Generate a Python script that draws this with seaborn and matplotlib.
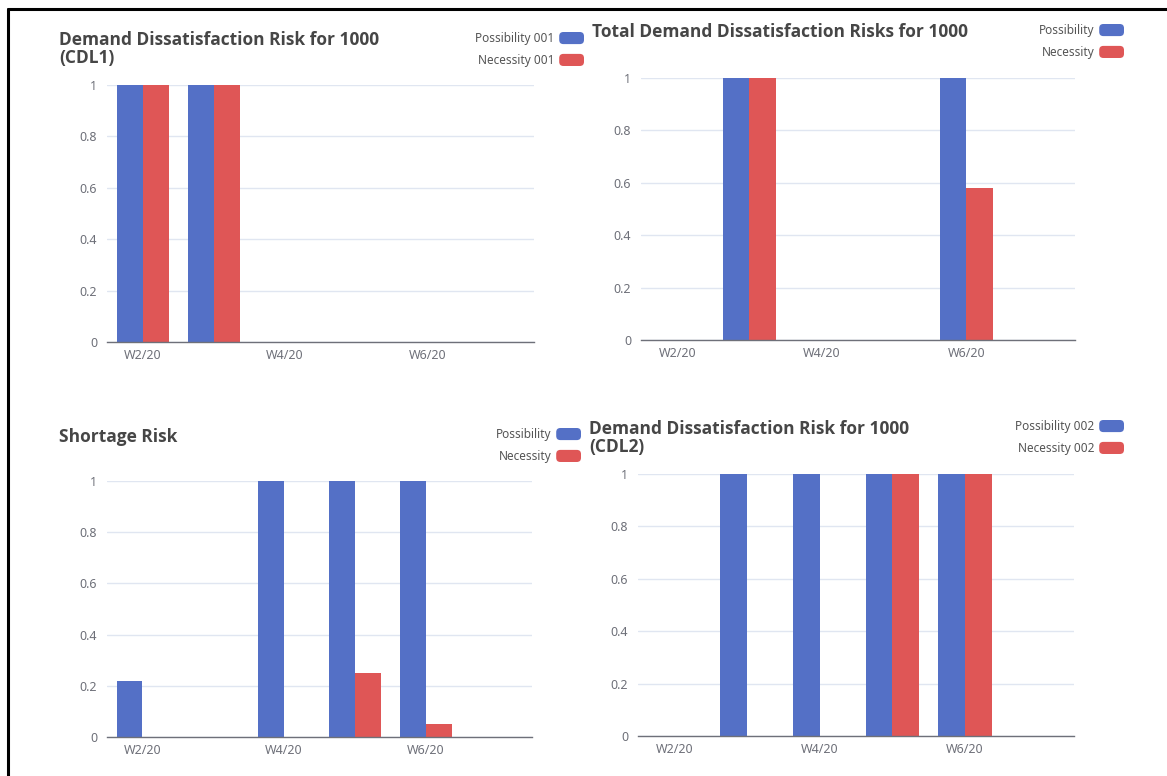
import pandas as pd
import matplotlib.pyplot as plt
import seaborn as sns
from matplotlib.lines import Line2D
from matplotlib.patches import Patch, FancyBboxPatch
from matplotlib.legend_handler import HandlerPatch

# Weeks on the x axis (every second one is labelled)
weeks = ["W2/20", "W3/20", "W4/20", "W5/20", "W6/20", "W7/20"]

# Demand Dissatisfaction Risk for 1000 (CDL1)
cdl1_poss = [1, 1, 0, 0, 0, 0]
cdl1_nec = [1, 1, 0, 0, 0, 0]

# Total Demand Dissatisfaction Risks for 1000
total_poss = [0, 1, 0, 0, 1, 0]
total_nec = [0, 1, 0, 0, 0.58, 0]

# Shortage Risk
short_poss = [0.22, 0, 1, 1, 1, 0]
short_nec = [0, 0, 0, 0.25, 0.05, 0]

# Demand Dissatisfaction Risk for 1000 (CDL2)
cdl2_poss = [0, 1, 1, 1, 1, 0]
cdl2_nec = [0, 0, 0, 1, 1, 0]

yticks = [0, 0.2, 0.4, 0.6, 0.8, 1]
ytick_labels = ["0", "0.2", "0.4", "0.6", "0.8", "1"]

BLUE = "#5470c6"
RED = "#df5656"

sns.set_style("white")
plt.rcParams["font.family"] = ["Noto Sans", "DejaVu Sans"]

W, H = 1167, 776
fig = plt.figure(figsize=(W / 100, H / 100), dpi=100)


class RoundSwatch(HandlerPatch):
    # rounded legend swatch like the echarts one
    def create_artists(self, legend, orig_handle, xdescent, ydescent,
                       width, height, fontsize, trans):
        p = FancyBboxPatch((-xdescent, -ydescent), width, height,
                           boxstyle="round,pad=0,rounding_size=3",
                           facecolor=orig_handle.get_facecolor(),
                           edgecolor="none", transform=trans)
        return [p]


def px(x0, y0, x1, y1):
    # pixel box -> figure fraction [left, bottom, width, height]
    return [x0 / W, 1 - y1 / H, (x1 - x0) / W, (y1 - y0) / H]


def draw(box, poss, nec, names, title, title_xy, leg_xy):
    ax = fig.add_axes(px(*box))
    df = pd.DataFrame({
        "week": weeks * 2,
        "series": [names[0]] * len(weeks) + [names[1]] * len(weeks),
        "value": poss + nec,
    })
    sns.barplot(data=df, x="week", y="value", hue="series", order=weeks,
                hue_order=names, palette=[BLUE, RED], saturation=1,
                width=0.73, ax=ax, linewidth=0, legend=False)
    ax.set_xlim(-0.5, len(weeks) - 0.5)
    ax.set_ylim(0, 1)
    ax.set_yticks(yticks)
    ax.set_yticklabels(ytick_labels)
    ax.set_xticks(range(0, len(weeks), 2))
    ax.set_xticklabels(weeks[::2])
    ax.set_xlabel("")
    ax.set_ylabel("")
    ax.grid(axis="y", color="#e0e6f1", linewidth=1)
    ax.set_axisbelow(True)
    for s in ["top", "right", "left"]:
        ax.spines[s].set_visible(False)
    ax.spines["bottom"].set_color("#6e7079")
    ax.spines["bottom"].set_linewidth(1)
    ax.tick_params(axis="both", length=0, labelsize=9, labelcolor="#6e7079")
    ax.tick_params(axis="y", pad=7)
    ax.tick_params(axis="x", pad=5)

    handles = [Patch(facecolor=BLUE, label=names[0]),
               Patch(facecolor=RED, label=names[1])]
    ax.legend(handles=handles, loc="upper right",
              bbox_to_anchor=(leg_xy[0] / W, 1 - leg_xy[1] / H),
              bbox_transform=fig.transFigure, frameon=False, markerfirst=False,
              borderpad=0, borderaxespad=0, handlelength=2.1, handleheight=1.2,
              handletextpad=0.4, labelspacing=0.75, fontsize=8.5,
              labelcolor="#555555", handler_map={Patch: RoundSwatch()})

    fig.text(title_xy[0] / W, 1 - title_xy[1] / H, title, ha="left", va="top",
             fontsize=12.5, fontweight="bold", color="#464646",
             linespacing=1.0, family=["Open Sans", "DejaVu Sans"])


draw((107, 85, 534, 342), cdl1_poss, cdl1_nec,
     ["Possibility 001", "Necessity 001"],
     "Demand Dissatisfaction Risk for 1000\n(CDL1)", (59, 31), (584, 32))
draw((641, 78, 1075, 340), total_poss, total_nec,
     ["Possibility", "Necessity"],
     "Total Demand Dissatisfaction Risks for 1000", (592, 23), (1124, 24))
draw((107, 481, 532, 737), short_poss, short_nec,
     ["Possibility", "Necessity"],
     "Shortage Risk", (59, 428), (581, 428))
draw((638, 474, 1074, 736), cdl2_poss, cdl2_nec,
     ["Possibility 002", "Necessity 002"],
     "Demand Dissatisfaction Risk for 1000\n(CDL2)", (589, 420), (1124, 420))

# frame lines of the screenshot
fig.add_artist(Line2D([8 / W, 1], [1 - 9 / H, 1 - 9 / H], color="black",
                      linewidth=2.2, transform=fig.transFigure))
fig.add_artist(Line2D([8 / W, 8 / W], [0, 1 - 9 / H], color="black",
                      linewidth=2.2, transform=fig.transFigure))

fig.savefig("out.png", dpi=100)
